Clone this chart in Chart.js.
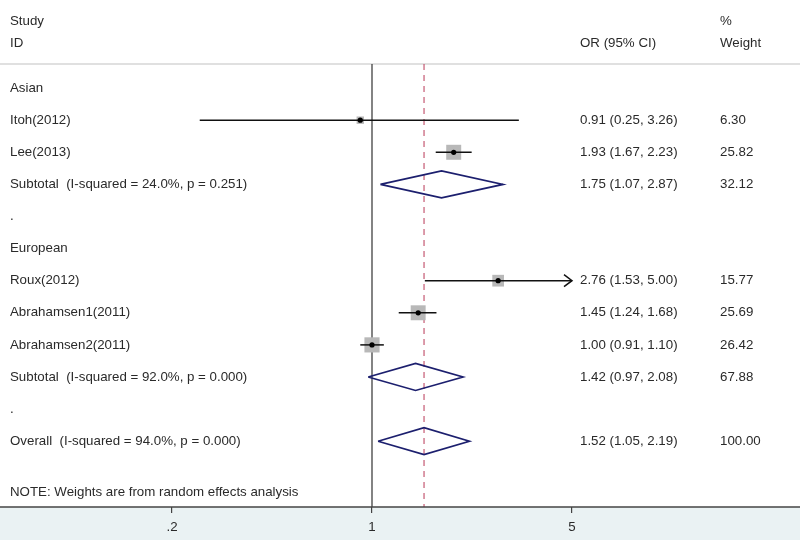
<!DOCTYPE html>
<html>
<head>
<meta charset="utf-8">
<script src="https://cdn.jsdelivr.net/npm/chart.js@4.4.1/dist/chart.umd.min.js"></script>
<style>
html,body{margin:0;padding:0;background:#ffffff;}
#wrap{position:relative;width:800px;height:540px;}
canvas{display:block;}
</style>
</head>
<body>
<div id="wrap"><canvas id="c" width="800" height="540"></canvas></div>
<script>
// ---- data ----
const rowLabels = ["Asian","Itoh(2012)","Lee(2013)","Subtotal  (I-squared = 24.0%, p = 0.251)",".","European","Roux(2012)","Abrahamsen1(2011)","Abrahamsen2(2011)","Subtotal  (I-squared = 92.0%, p = 0.000)",".","Overall  (I-squared = 94.0%, p = 0.000)"];
const rowKind   = ["head","study","study","sub","blank","head","study","study","study","sub","blank","sub"];
const orValues  = [null, 0.91, 1.93, 1.75, null, null, 2.76, 1.45, 1.00, 1.42, null, 1.52];
const ciLower   = [null, 0.25, 1.67, 1.07, null, null, 1.53, 1.24, 0.91, 0.97, null, 1.05];
const ciUpper   = [null, 3.26, 2.23, 2.87, null, null, 5.00, 1.68, 1.10, 2.08, null, 2.19];
const weights   = [null, 6.30, 25.82, 32.12, null, null, 15.77, 25.69, 26.42, 67.88, null, 100.00];
const xTicks = [0.2, 1, 5];
const xTickLabels = [".2", "1", "5"];
const overallOR = 1.52;
const noteText = "NOTE: Weights are from random effects analysis";

// ---- layout / style ----
const FAMILY = '"Liberation Sans", Arial, sans-serif';
const FONT = '13.3px ' + FAMILY;
const TXT = '#2a2a2a';
const Y_MIN = -0.75, Y_MAX = 13.05;
const X_MIN = Math.pow(10, -372 / 286.13), X_MAX = Math.pow(10, 428 / 286.13);
const DIAMOND_H = 0.42;

const datasets = [];
datasets.push({type:'line', data:[{x:1,y:Y_MIN},{x:1,y:Y_MAX}], borderColor:'#333333', borderWidth:1.2, pointRadius:0, order:5});
datasets.push({type:'line', data:[{x:overallOR,y:Y_MIN},{x:overallOR,y:Y_MAX}], borderColor:'#c04a66', borderWidth:1.1, borderDash:[6,5], pointRadius:0, order:5});

const studyIdx = [];
rowKind.forEach((k,i)=>{
  if (k==='study'){
    studyIdx.push(i);
    datasets.push({type:'line', data:[{x:ciLower[i],y:i},{x:ciUpper[i],y:i}], borderColor:'#111111', borderWidth:1.5, pointRadius:0, order:3});
  } else if (k==='sub'){
    datasets.push({type:'line', data:[
      {x:ciLower[i],y:i},{x:orValues[i],y:i-DIAMOND_H},{x:ciUpper[i],y:i},{x:orValues[i],y:i+DIAMOND_H},{x:ciLower[i],y:i}
    ], borderColor:'#1c1f6e', borderWidth:1.7, pointRadius:0, fill:false, tension:0, order:2});
  }
});
datasets.push({type:'scatter', data: studyIdx.map(i=>({x:orValues[i],y:i})),
  pointStyle:'rect', pointRadius: studyIdx.map(i=>2.086*Math.sqrt(weights[i])),
  backgroundColor:'#b8b8b8', borderWidth:0, order:4});
datasets.push({type:'scatter', data: studyIdx.map(i=>({x:orValues[i],y:i})),
  pointStyle:'circle', pointRadius:2.6, backgroundColor:'#000000', borderWidth:0, order:1});

const decor = {
  id:'decor',
  beforeDraw(chart){
    const {ctx, chartArea:a} = chart;
    ctx.save();
    ctx.fillStyle = '#ffffff';
    ctx.fillRect(0,0,800,540);
    ctx.fillStyle = '#eaf2f3';
    ctx.fillRect(0,a.bottom,800,540-a.bottom);
    ctx.strokeStyle = '#d6d6d6';
    ctx.lineWidth = 1.5;
    ctx.beginPath(); ctx.moveTo(0,a.top); ctx.lineTo(800,a.top); ctx.stroke();
    ctx.restore();
  },
  afterDraw(chart){
    const {ctx, chartArea:a} = chart;
    const xs = chart.scales.x, ys = chart.scales.y;
    ctx.save();
    ctx.font = FONT;
    ctx.fillStyle = TXT;
    ctx.textBaseline = 'middle';
    ctx.textAlign = 'left';
    ctx.fillText('Study', 10, 21);
    ctx.fillText('ID', 10, 43);
    ctx.fillText('OR (95% CI)', 580, 43);
    ctx.fillText('%', 720, 21);
    ctx.fillText('Weight', 720, 43);
    rowLabels.forEach((lab,i)=>{
      const y = ys.getPixelForValue(i);
      ctx.fillText(lab, 10, y);
      if (orValues[i]!=null){
        ctx.fillText(orValues[i].toFixed(2)+' ('+ciLower[i].toFixed(2)+', '+ciUpper[i].toFixed(2)+')', 580, y);
        ctx.fillText(weights[i].toFixed(2), 720, y);
      }
    });
    ctx.fillText(noteText, 10, ys.getPixelForValue(12.58));
    const lim = xTicks[xTicks.length-1];
    ctx.strokeStyle = '#111111'; ctx.lineWidth = 1.5;
    rowKind.forEach((k,i)=>{
      if (k==='study' && ciUpper[i] >= lim){
        const px = xs.getPixelForValue(ciUpper[i]), py = ys.getPixelForValue(i);
        ctx.beginPath(); ctx.moveTo(px-8,py-6); ctx.lineTo(px,py); ctx.lineTo(px-8,py+6); ctx.stroke();
      }
    });
    ctx.strokeStyle = '#444444'; ctx.lineWidth = 1.5;
    ctx.beginPath(); ctx.moveTo(0,a.bottom); ctx.lineTo(800,a.bottom); ctx.stroke();
    ctx.restore();
  }
};

new Chart(document.getElementById('c'), {
  data:{datasets},
  options:{
    responsive:false, animation:false,
    layout:{autoPadding:false, padding:{top:64,left:0,right:0,bottom:0}},
    plugins:{legend:{display:false}, tooltip:{enabled:false}},
    scales:{
      x:{type:'logarithmic', position:'bottom', min:X_MIN, max:X_MAX,
        afterBuildTicks(s){ s.ticks = xTicks.map(v=>({value:v})); },
        afterFit(s){ s.height = 33; },
        ticks:{autoSkip:false, maxRotation:0, color:TXT, font:{family:FAMILY, size:13.3}, padding:6,
          callback(v){ const k = xTicks.indexOf(v); return k>=0 ? xTickLabels[k] : ''; }},
        grid:{drawOnChartArea:false, drawTicks:true, tickLength:6, color:'#444444', lineWidth:1.2},
        border:{display:false}
      },
      y:{type:'linear', display:false, min:Y_MIN, max:Y_MAX, reverse:true}
    }
  },
  plugins:[decor]
});
</script>
</body>
</html>
